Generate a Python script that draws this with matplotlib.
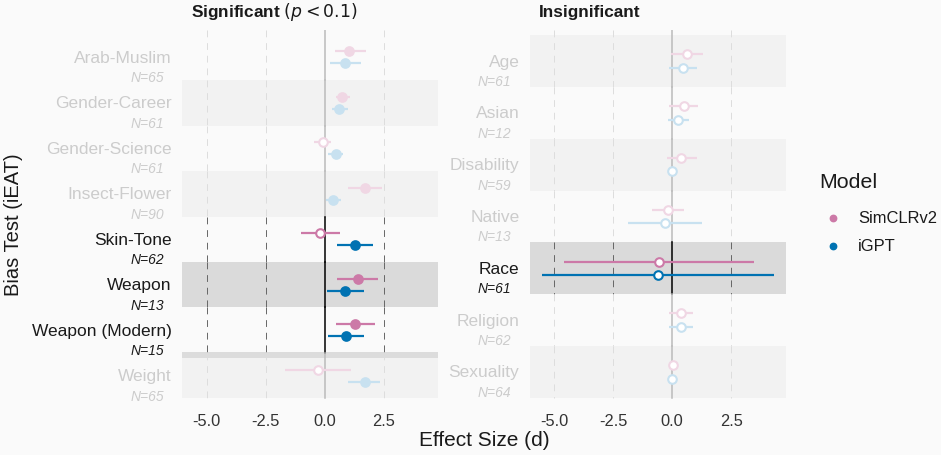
import matplotlib
matplotlib.use("Agg")
import matplotlib.pyplot as plt
import matplotlib.transforms as mtransforms
from matplotlib.lines import Line2D

plt.rcParams['font.family'] = ['Liberation Sans', 'DejaVu Sans']

# ---------------- data ----------------
sig_tests = ["Arab-Muslim", "Gender-Career", "Gender-Science", "Insect-Flower",
             "Skin-Tone", "Weapon", "Weapon (Modern)", "Weight"]
sig_n = [65, 61, 61, 90, 62, 13, 15, 65]
sig_highlight = [False, False, False, False, True, True, True, False]
sig_band = ["none", "light", "none", "light", "none", "dark", "none", "light"]
sig_simclr = [1.04, 0.75, -0.08, 1.69, -0.19, 1.40, 1.30, -0.30]
sig_simclr_lo = [0.44, 0.47, -0.44, 1.00, -1.00, 0.53, 0.47, -1.68]
sig_simclr_hi = [1.74, 1.07, 0.25, 2.42, 0.65, 2.26, 2.13, 1.11]
sig_simclr_signif = [True, True, False, True, False, True, True, False]
sig_igpt = [0.87, 0.62, 0.47, 0.35, 1.28, 0.87, 0.90, 1.69]
sig_igpt_lo = [0.24, 0.30, 0.15, 0.04, 0.51, 0.10, 0.14, 0.99]
sig_igpt_hi = [1.53, 0.97, 0.76, 0.68, 2.03, 1.67, 1.67, 2.36]
sig_igpt_signif = [True, True, True, True, True, True, True, True]

ins_tests = ["Age", "Asian", "Disability", "Native", "Race", "Religion", "Sexuality"]
ins_n = [61, 12, 59, 13, 61, 62, 64]
ins_highlight = [False, False, False, False, True, False, False]
ins_band = ["light", "none", "light", "none", "dark", "none", "light"]
ins_simclr = [0.61, 0.50, 0.38, -0.19, -0.58, 0.36, 0.04]
ins_simclr_lo = [-0.06, -0.13, -0.24, -0.85, -4.59, -0.13, 0.00]
ins_simclr_hi = [1.29, 1.10, 1.05, 0.50, 3.47, 0.89, 0.08]
ins_simclr_signif = [False] * 7
ins_igpt = [0.45, 0.25, 0.00, -0.32, -0.62, 0.38, -0.03]
ins_igpt_lo = [-0.15, -0.17, -0.02, -1.89, -5.53, -0.13, -0.05]
ins_igpt_hi = [1.03, 0.69, 0.02, 1.25, 4.31, 0.89, -0.01]
ins_igpt_signif = [False] * 7

x_ticks = [-5.0, -2.5, 0.0, 2.5]
x_ticklabels = ["-5.0", "-2.5", "0.0", "2.5"]
models = ["SimCLRv2", "iGPT"]

# ---------------- style ----------------
BG = "#FAFAFA"
BAND_LIGHT = "#F2F2F2"
BAND_DARK = "#DADADA"
PINK = "#CC79A7"
BLUE = "#0072B2"
PINK_F = "#F0D7E4"
BLUE_F = "#C8E1F0"
TXT = "#1A1A1A"
TXT_F = "#CCCCCC"
XLIM = (-6.03, 4.81)
PT = 0.72  # points per pixel at dpi 100

W, H = 941, 456
fig = plt.figure(figsize=(W / 100, H / 100), dpi=100, facecolor=BG)

top_px, bot_px = 31, 404


def make_axes(left_px, right_px):
    return fig.add_axes([left_px / W, 1 - bot_px / H, (right_px - left_px) / W,
                         (bot_px - top_px) / H])


def draw_panel(ax, tests, ns, hl, bands, vals, title, dark_strip=None):
    n = len(tests)
    ax.set_facecolor(BG)
    ax.set_xlim(*XLIM)
    ax.set_ylim(n + 0.6, 0.4)
    for s in ax.spines.values():
        s.set_visible(False)
    ax.set_yticks([])
    ax.set_xticks(x_ticks)
    ax.set_xticklabels(x_ticklabels, fontsize=11.8, color="#333333")
    ax.tick_params(axis='x', length=0, pad=7)
    # bands
    for i in range(n):
        y = i + 1
        if bands[i] == "dark":
            ax.axhspan(y - 0.5, y + 0.5, color=BAND_DARK, lw=0, zorder=0)
        elif bands[i] == "light":
            ax.axhspan(y - 0.5, y + 0.5, color=BAND_LIGHT, lw=0, zorder=0)
    if dark_strip is not None:
        ax.axhspan(dark_strip - 0.53, dark_strip - 0.4, color="#DCDCDC", lw=0, zorder=0.5)
    # grid lines per row
    for i in range(n):
        y = i + 1
        y0, y1 = (y - 0.5, y + 0.5)
        if i == 0:
            y0 = 0.4
        if i == n - 1:
            y1 = n + 0.5
        gcol = "#666666" if hl[i] else "#DDDDDD"
        zcol = "#000000" if hl[i] else "#BBBBBB"
        for gx in [-5.0, -2.5, 2.5]:
            ax.plot([gx, gx], [y0, y1], color=gcol, lw=0.7, ls=(0, (7, 6)), zorder=1)
        ax.plot([0, 0], [y0, y1], color=zcol, lw=1.1, zorder=1.5)
    # points
    (s_v, s_lo, s_hi, s_sig, g_v, g_lo, g_hi, g_sig) = vals
    for i in range(n):
        y = i + 1
        for (v, lo, hi, sig, off, c, cf) in [
                (s_v[i], s_lo[i], s_hi[i], s_sig[i], -0.13, PINK, PINK_F),
                (g_v[i], g_lo[i], g_hi[i], g_sig[i], 0.13, BLUE, BLUE_F)]:
            col = c if hl[i] else cf
            ax.plot([lo, hi], [y + off, y + off], color=col, lw=1.6,
                    solid_capstyle='butt', zorder=3)
            face = col if sig else "white"
            ax.plot([v], [y + off], marker='o', ms=6.2, mfc=face, mec=col,
                    mew=1.5, zorder=4, ls='none')
    # y labels
    trans_name = mtransforms.offset_copy(ax.get_yaxis_transform(), fig=fig,
                                         x=-10.6 * PT, y=0, units='points')
    trans_n = mtransforms.offset_copy(ax.get_yaxis_transform(), fig=fig,
                                      x=-18.3 * PT, y=-20 * PT, units='points')
    for i in range(n):
        y = i + 1
        col = TXT if hl[i] else TXT_F
        ax.text(0, y, tests[i], transform=trans_name, ha='right', va='center',
                fontsize=12.5, color=col)
        ax.text(0, y, f"N={ns[i]}", transform=trans_n, ha='right', va='center',
                fontsize=10, style='italic', color=col)
    # title
    trans_t = mtransforms.offset_copy(ax.transAxes, fig=fig, x=0,
                                      y=14.3 * PT, units='points')
    ax.text(0.035, 1.0, title, transform=trans_t, ha='left',
            va='baseline', fontsize=12.4, color=TXT, fontweight='bold')
    return ax


ax1 = make_axes(182.3, 438.3)
ax2 = make_axes(530.0, 785.7)

draw_panel(ax1, sig_tests, sig_n, sig_highlight, sig_band,
           (sig_simclr, sig_simclr_lo, sig_simclr_hi, sig_simclr_signif,
            sig_igpt, sig_igpt_lo, sig_igpt_hi, sig_igpt_signif),
           r"Significant $\left(p < 0.1\right)$", dark_strip=8)
draw_panel(ax2, ins_tests, ins_n, ins_highlight, ins_band,
           (ins_simclr, ins_simclr_lo, ins_simclr_hi, ins_simclr_signif,
            ins_igpt, ins_igpt_lo, ins_igpt_hi, ins_igpt_signif),
           "Insignificant")

fig.text(484 / W, 1 - 441 / H, "Effect Size (d)", ha='center', va='center',
         fontsize=15, color=TXT)
fig.text(14 / W, 1 - 225 / H, "Bias Test (iEAT)", ha='center', va='center',
         rotation=90, fontsize=14.5, color=TXT)

# legend (manual placement)
fig.text(819 / W, 1 - 183 / H, "Model", ha='left', va='center',
         fontsize=15.4, color=TXT)
for lab, c, ypx in zip(models, [PINK, BLUE], [219, 247]):
    fig.add_artist(Line2D([833 / W], [1 - ypx / H], transform=fig.transFigure,
                          ls='none', marker='o', ms=4.6, mfc=c, mec=c))
    fig.text(858 / W, 1 - ypx / H, lab, ha='left', va='center',
             fontsize=11.9, color=TXT)

fig.savefig("out.png", dpi=100, facecolor=BG)
